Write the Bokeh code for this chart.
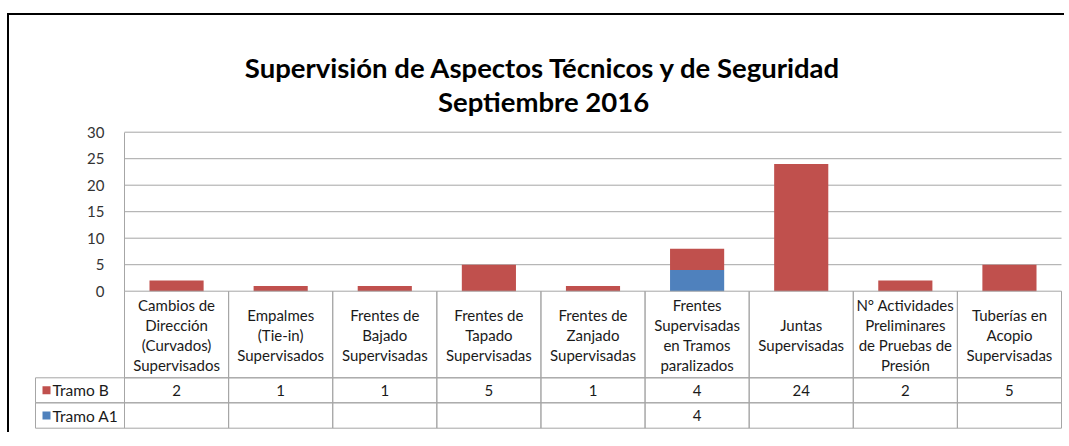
from bokeh.plotting import figure
from bokeh.layouts import column
from bokeh.models import ColumnDataSource, Range1d, FixedTicker
from bokeh.core.properties import value
from bokeh.embed import file_html
from bokeh.resources import INLINE

# ---------------- data ----------------
title_lines = ["Supervisión de Aspectos Técnicos y de Seguridad", "Septiembre 2016"]
categories = [
    "Cambios de\nDirección\n(Curvados)\nSupervisados",
    "Empalmes\n(Tie-in)\nSupervisados",
    "Frentes de\nBajado\nSupervisadas",
    "Frentes de\nTapado\nSupervisadas",
    "Frentes de\nZanjado\nSupervisadas",
    "Frentes\nSupervisadas\nen Tramos\nparalizados",
    "Juntas\nSupervisadas",
    "N° Actividades\nPreliminares\nde Pruebas de\nPresión",
    "Tuberías en\nAcopio\nSupervisadas",
]
series_names = ["Tramo B", "Tramo A1"]
tramo_b = [2, 1, 1, 5, 1, 4, 24, 2, 5]
tramo_a1 = [None, None, None, None, None, 4, None, None, None]
y_ticks = [0, 5, 10, 15, 20, 25, 30]

# ---------------- style / layout constants (page pixels) ----------------
RED = "#C0504D"
BLUE = "#4F81BD"
GRID = "#A6A6A6"
FONT = "Lato"
TXT = "#1a1a1a"

FIG_LEFT, FIG_TOP = 9, 15          # page position of the figure origin
W, HFIG = 1055, 417
AX_PX, RIGHT_PX = 124, 1061        # category area in page px
ZERO_PX, TOP_PX = 290.7, 131.7     # value 0 and value 30
n = len(categories)
CAT_W = (RIGHT_PX - AX_PX) / n
VU = (ZERO_PX - TOP_PX) / y_ticks[-1]


def xpx(px):
    return (px - AX_PX) / CAT_W


def ypx(px):
    return (ZERO_PX - px) / VU


p = figure(x_range=Range1d(xpx(FIG_LEFT), xpx(FIG_LEFT + W)),
           y_range=Range1d(ypx(FIG_TOP + HFIG), ypx(FIG_TOP)),
           width=W, height=HFIG, min_border=0,
           output_backend="svg", toolbar_location=None)
p.outline_line_color = None
p.xaxis.visible = False
p.grid.visible = False

# y axis placed at the category area's left edge
yax = p.yaxis[0]
yax.fixed_location = 0
yax.bounds = (0, y_ticks[-1])
yax.ticker = FixedTicker(ticks=y_ticks)
yax.axis_line_color = GRID
yax.major_tick_line_color = None
yax.minor_tick_line_color = None
yax.major_label_standoff = 14
yax.major_label_text_font = FONT
yax.major_label_text_font_size = "15px"
yax.major_label_text_color = "#333333"

# gridlines over the category area
p.segment(x0=0, x1=n, y0=y_ticks[1:], y1=y_ticks[1:], line_color=GRID, line_width=1)

# bars
xs = [i + 0.5 for i in range(n)]
src = ColumnDataSource(dict(
    x=xs,
    a1=[v if v is not None else 0 for v in tramo_a1],
    b=tramo_b,
))
p.vbar_stack(["a1", "b"], x="x", width=0.52, color=[BLUE, RED],
             line_color=None, source=src)

# title
for txt, base_px in zip(title_lines, [66.7, 101]):
    p.text(x=[xpx(543)], y=[ypx(base_px)], text=[txt], text_align="center",
           text_baseline="alphabetic", text_font=value(FONT),
           text_font_style="bold", text_font_size="27.5px", text_color="black")

# ---------------- data table ----------------
hdr_bot, b_bot, a1_bot = ypx(377.3), ypx(402.3), ypx(427.7)
leg_left = xpx(35)
idx = list(range(n))
right = [i + 1 for i in idx]

p.quad(left=idx, right=right, bottom=hdr_bot, top=0,
       fill_color=None, line_color=GRID, line_width=1)
for top, bot in ((hdr_bot, b_bot), (b_bot, a1_bot)):
    p.quad(left=[leg_left] + idx, right=[0] + right, bottom=bot, top=top,
           fill_color=None, line_color=GRID, line_width=1)

# category labels, one text per line, centered in the header row
LINE_H = 20 / VU
hdr_mid = hdr_bot / 2
lx, ly, lt = [], [], []
for i, cat in enumerate(categories):
    lines = cat.split("\n")
    k = len(lines)
    for j, ln in enumerate(lines):
        lx.append(i + 0.5)
        ly.append(hdr_mid + ((k - 1) / 2 - j) * LINE_H)
        lt.append(ln)
p.text(x=lx, y=ly, text=lt, text_align="center", text_baseline="middle",
       text_font=value(FONT), text_font_size="15px", text_color=TXT)

rows = ((series_names[0], tramo_b, RED, (hdr_bot + b_bot) / 2),
        (series_names[1], tramo_a1, BLUE, (b_bot + a1_bot) / 2))
for name, vals, col, ymid in rows:
    vx = [i + 0.5 for i, v in enumerate(vals) if v is not None]
    vt = [str(v) for v in vals if v is not None]
    p.text(x=vx, y=[ymid] * len(vx), text=vt, text_align="center",
           text_baseline="middle", text_font=value(FONT), text_font_size="15px",
           text_color=TXT)
    p.scatter(x=[xpx(46)], y=[ymid], marker="square", size=8,
              fill_color=col, line_color=None)
    p.text(x=[xpx(52)], y=[ymid], text=[name], text_align="left",
           text_baseline="middle", text_font=value(FONT),
           text_font_size="15.5px", text_color=TXT)

layout = column(p, styles={"margin-left": "7px", "margin-top": "13px",
                           "border-top": "2px solid black",
                           "border-left": "2px solid black"})

open("out.html", "w").write(file_html(layout, INLINE))
